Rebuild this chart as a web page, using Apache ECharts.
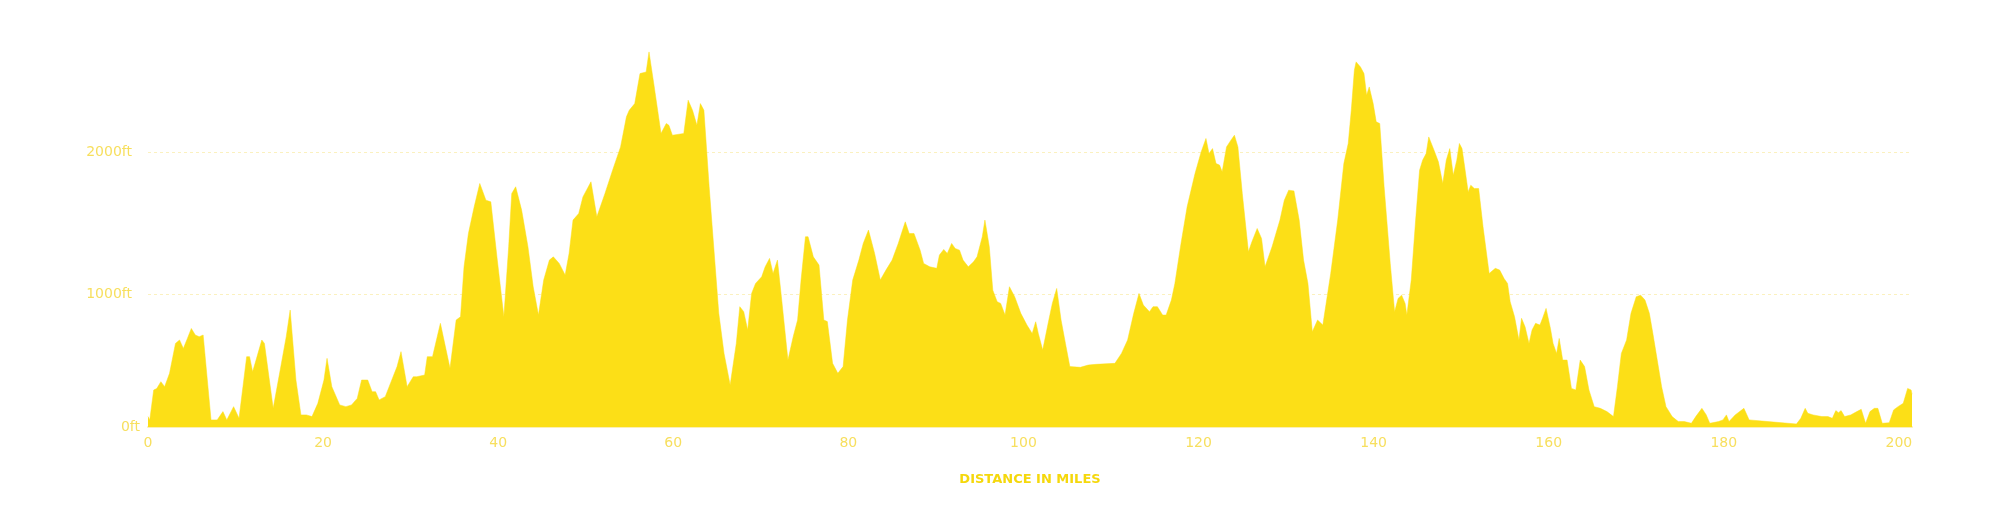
<!DOCTYPE html>
<html>
<head>
<meta charset="utf-8">
<script src="https://cdn.jsdelivr.net/npm/echarts@6/dist/echarts.min.js"></script>
<style>
html,body{margin:0;padding:0;background:#fff;}
#chart{width:2000px;height:505px;}
</style>
</head>
<body>
<div id="chart"></div>
<script>
// Distance along the route (miles)
const miles = [
0,0.2,0.65,1.0,1.47,1.9,2.46,3.14,3.6,4.04,4.5,4.95,5.4,5.85,6.3,7.2,7.9,8.56,9.0,9.78,
10.4,11.27,11.6,11.95,12.4,13.0,13.3,14.3,15.1,15.79,16.24,16.9,17.47,18.1,18.73,19.4,20.1,20.45,21.0,21.9,
22.6,23.25,23.9,24.4,25.1,25.6,26.0,26.4,27.1,27.77,28.45,28.9,29.6,30.3,30.7,31.6,31.9,32.5,33.4,34.5,
35.2,35.7,36.1,36.6,37.26,37.9,38.6,39.16,39.9,40.65,41.2,41.55,42.0,42.68,43.4,44.0,44.6,45.2,45.85,46.3,
46.97,47.65,48.1,48.55,49.2,49.68,50.6,51.27,52.2,53.07,53.98,54.65,54.97,55.6,56.2,56.9,57.23,57.8,58.6,59.2,
59.5,59.9,61.2,61.7,62.2,62.7,63.1,63.5,64.1,65.2,65.8,66.5,67.2,67.6,68.05,68.5,68.95,69.4,70.1,70.5,
71.0,71.4,71.9,72.35,73.1,73.7,74.2,74.6,75.1,75.4,76.0,76.65,77.2,77.6,78.2,78.8,79.4,79.9,80.5,81.2,
81.7,82.3,83.0,83.65,84.3,85.0,85.7,86.5,86.95,87.5,88.2,88.6,89.3,90.1,90.4,90.9,91.3,91.8,92.2,92.7,
93.1,93.7,94.3,94.7,95.3,95.6,96.1,96.5,97.0,97.4,97.9,98.4,99.0,99.7,100.4,101.0,101.4,101.7,102.2,102.9,
103.3,103.8,104.3,104.8,105.3,106.5,107.4,108.3,110.45,111.2,111.9,112.6,113.2,113.7,114.4,114.8,115.3,115.9,116.3,116.9,
117.3,118.0,118.7,119.6,120.3,120.85,121.2,121.6,122.0,122.4,122.7,123.2,123.7,124.1,124.5,125.0,125.7,126.1,126.7,127.2,
127.6,128.4,129.3,129.8,130.3,130.9,131.5,132.0,132.5,133.0,133.6,134.2,134.4,135.1,135.9,136.6,137.1,137.45,137.8,138.0,
138.5,138.9,139.2,139.5,139.95,140.3,140.7,141.2,141.9,142.4,142.8,143.2,143.6,143.8,144.3,144.8,145.25,145.6,146.0,146.3,
146.9,147.4,147.9,148.3,148.7,149.1,149.5,149.8,150.1,150.4,150.8,151.1,151.5,152.0,152.5,153.2,153.9,154.4,154.9,155.3,
155.6,156.1,156.6,156.9,157.3,157.75,158.1,158.5,159.0,159.3,159.7,160.2,160.5,160.9,161.2,161.6,162.1,162.6,163.1,163.6,
164.1,164.6,165.2,165.9,166.65,167.4,167.6,167.85,168.3,168.9,169.4,170.0,170.5,171.0,171.5,171.9,172.4,172.9,173.4,174.1,
174.8,175.5,176.3,176.8,177.5,178.0,178.4,179.4,179.9,180.3,180.6,181.3,182.3,182.9,184.7,188.3,188.8,189.3,189.6,190.2,
191.2,191.9,192.4,192.8,193.1,193.4,193.8,194.5,195.2,195.7,196.2,196.7,197.2,197.6,198.1,198.9,199.4,199.9,200.5,201.0,
201.4,201.5
];
// Elevation (feet)
const elevation = [
143,120,330,340,388,353,447,657,681,622,692,762,716,704,716,120,120,178,120,213,
131,564,564,458,552,681,657,201,470,704,891,400,155,155,143,236,400,552,353,225,
213,225,271,400,400,318,318,260,283,388,494,599,353,423,423,435,564,564,798,482,
821,844,1195,1429,1616,1780,1663,1651,1242,844,1336,1710,1757,1593,1336,1055,856,1102,1242,1265,
1219,1137,1289,1523,1569,1686,1792,1546,1710,1873,2037,2248,2294,2341,2552,2563,2704,2470,2131,2201,
2189,2119,2131,2365,2294,2189,2341,2294,1757,868,587,365,657,915,880,751,1008,1078,1125,1195,
1254,1148,1242,985,540,704,821,1102,1406,1406,1265,1207,821,810,517,447,494,821,1102,1242,
1359,1453,1289,1102,1172,1242,1359,1511,1429,1429,1312,1219,1195,1184,1277,1317,1289,1359,1324,1312,
1242,1195,1230,1265,1406,1523,1336,1031,950,938,856,1055,985,868,786,727,809,727,610,821,
938,1043,821,657,494,489,505,510,517,587,681,868,1008,926,880,915,915,856,856,961,
1078,1359,1616,1850,2002,2096,1990,2025,1920,1909,1862,2037,2084,2119,2037,1710,1300,1371,1464,1394,
1195,1336,1523,1663,1733,1728,1523,1242,1078,739,821,786,775,1148,1523,1920,2061,2294,2575,2634,
2598,2552,2400,2458,2341,2213,2201,1757,1219,880,973,996,938,856,1102,1523,1873,1944,1990,2107,
2014,1932,1780,1944,2025,1838,1944,2061,2025,1897,1721,1768,1745,1745,1476,1148,1184,1172,1113,1078,
950,844,681,833,774,657,751,798,786,833,903,762,657,587,692,540,540,341,330,540,
494,330,213,201,178,143,150,353,587,681,868,985,996,961,868,727,540,353,213,143,
108,108,96,143,201,155,96,108,120,155,108,155,201,120,110,91,131,201,166,155,
143,143,131,185,170,185,143,155,178,194,96,178,201,201,96,100,190,213,236,341,
330,300
];
const xTicks = [0,20,40,60,80,100,120,140,160,180,200];
const yLabelValues = [70,1000,2000];
const yGridValues = [1000,2000];
const xTitle = 'DISTANCE IN MILES';

const chart = echarts.init(document.getElementById('chart'), null, {renderer:'canvas'});
const pts = miles.map((m,i)=>[m, elevation[i]]);
const labelColor = '#f7df5e';
chart.setOption({
  animation:false,
  backgroundColor:'#ffffff',
  grid:{left:148,right:88,top:24,bottom:78,containLabel:false},
  xAxis:{
    type:'value', min:0, max:201.5,
    name:xTitle, nameLocation:'middle', nameGap:46,
    nameTextStyle:{color:'#f5d80c',fontSize:13,fontWeight:'bold',fontFamily:'DejaVu Sans'},
    axisLine:{show:true,lineStyle:{color:'#fbefb4',width:2}},
    axisTick:{show:false, customValues:xTicks},
    splitLine:{show:false},
    axisLabel:{color:labelColor,fontSize:14,fontFamily:'DejaVu Sans',margin:9,
      customValues:xTicks}
  },
  yAxis:{
    type:'value', min:70, max:2900,
    axisLine:{show:false},
    axisTick:{show:false, customValues:yGridValues},
    axisLabel:{color:labelColor,fontSize:14,fontFamily:'DejaVu Sans',margin:8,
      customValues:yLabelValues,
      formatter:v=> v<100 ? '{b|0ft}' : '{a|'+v+'ft}',
      rich:{
        a:{color:labelColor,fontSize:14,fontFamily:'DejaVu Sans',padding:[0,8,0,0]},
        b:{color:labelColor,fontSize:14,fontFamily:'DejaVu Sans'}
      }},
    splitLine:{show:true,lineStyle:{color:'#fbf1bf',type:[3,3],width:1}}
  },
  series:[{
    type:'line', data:pts, symbol:'none', smooth:false,
    lineStyle:{width:0.5,color:'#fcdf17'},
    areaStyle:{color:'#fcdf17',opacity:1},
    silent:true
  }]
});
</script>
</body>
</html>
